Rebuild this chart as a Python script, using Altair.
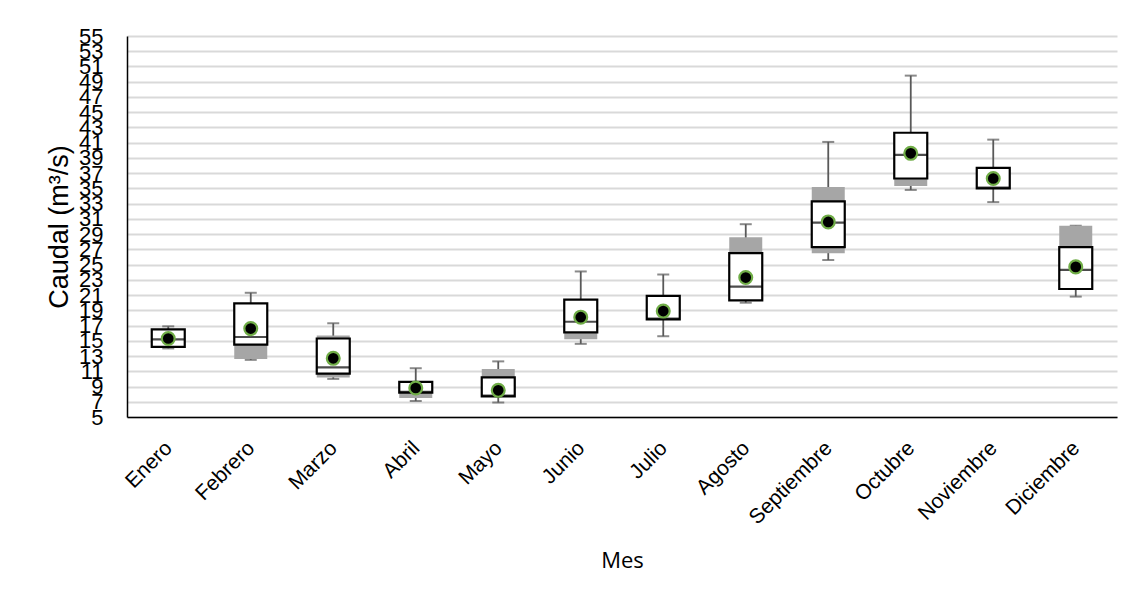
import altair as alt
import pandas as pd

months = ["Enero", "Febrero", "Marzo", "Abril", "Mayo", "Junio", "Julio",
          "Agosto", "Septiembre", "Octubre", "Noviembre", "Diciembre"]
wmin   = [14.0, 12.5, 10.0, 7.1, 6.9, 14.6, 15.6, 20.0, 25.6, 34.8, 33.2, 20.8]
gray_lo = [14.2, 12.6, 10.2, 7.5, 7.7, 15.2, 17.8, 20.3, 26.5, 35.3, 35.0, 21.8]
q1     = [14.2, 14.5, 10.7, 8.2, 7.7, 16.1, 17.8, 20.3, 27.3, 36.3, 35.0, 21.8]
median = [15.2, 15.5, 11.5, 8.3, 7.8, 17.5, 17.9, 22.1, 30.5, 39.4, 35.1, 24.3]
q3     = [16.5, 19.9, 15.3, 9.6, 10.2, 20.4, 20.9, 26.5, 33.3, 42.3, 37.7, 27.3]
gray_hi = [16.5, 19.9, 15.7, 9.6, 11.3, 20.4, 20.9, 28.6, 35.2, 42.3, 37.7, 30.1]
wmax   = [16.9, 21.3, 17.3, 11.4, 12.3, 24.1, 23.7, 30.3, 41.1, 49.8, 41.4, 30.1]
mean   = [15.3, 16.6, 12.7, 8.8, 8.5, 18.1, 18.9, 23.3, 30.6, 39.6, 36.3, 24.7]
y_ticks = list(range(5, 56, 2))

df = pd.DataFrame({"Mes": months, "wmin": wmin, "glo": gray_lo, "q1": q1,
                   "med": median, "q3": q3, "ghi": gray_hi, "wmax": wmax,
                   "mean": mean})

LABEL_FONT = "Liberation Sans"

x_axis = alt.Axis(title="Mes", labelAngle=-45, labelFontSize=21,
                  labelFont=LABEL_FONT, labelColor="black",
                  labelPadding=20, labelOffset=-7, ticks=False,
                  domainColor="black", domainWidth=1.5,
                  titleFont="Open Sans", titleFontSize=22,
                  titleFontWeight="normal", titleColor="black",
                  titleX=495, titleY=133, labelOverlap=False, labelLimit=300)
X = alt.X("Mes:N", sort=months,
          scale=alt.Scale(paddingInner=0, paddingOuter=0), axis=x_axis)

yscale = alt.Scale(domain=[5, 55], nice=False, zero=False)
y_axis = alt.Axis(title="Caudal (m³/s)", values=y_ticks, labelFontSize=22,
                  labelFont=LABEL_FONT, labelColor="black", labelPadding=24,
                  ticks=False, domainColor="black", domainWidth=1.5,
                  gridColor="#d9d9d9", gridWidth=1.8, labelOverlap=False,
                  titleFont=LABEL_FONT, titleFontSize=27,
                  titleFontWeight="normal", titleColor="black",
                  titleX=-54, titleY=190.5, labelFlush=False)


def Y(field):
    return alt.Y(field, scale=yscale, axis=y_axis)


base = alt.Chart(df).encode(x=X)

whisker = base.mark_rule(color="#595959", strokeWidth=1.8).encode(
    y=Y("wmin:Q"), y2="wmax:Q")
caps_lo = base.mark_tick(color="#595959", size=12, thickness=2).encode(
    y=Y("wmin:Q"))
caps_hi = base.mark_tick(color="#595959", size=12, thickness=2).encode(
    y=Y("wmax:Q"))
gray = base.mark_bar(color="#a6a6a6", size=33).encode(
    y=Y("glo:Q"), y2="ghi:Q")
box = base.mark_bar(fill="white", stroke="black", strokeWidth=2.2, size=33).encode(
    y=Y("q1:Q"), y2="q3:Q")
med = base.mark_tick(color="black", size=33, thickness=2.2).encode(
    y=Y("med:Q"))
pts = base.mark_point(filled=True, fill="black", stroke="#70ad47",
                      strokeWidth=2.2, size=165, opacity=1,
                      fillOpacity=1, strokeOpacity=1).encode(
    y=Y("mean:Q"))

chart = alt.layer(whisker, caps_lo, caps_hi, gray, box, med, pts).properties(
    width=990, height=381,
    padding={"left": 119, "top": 28, "right": 8, "bottom": 180},
    autosize=alt.AutoSizeParams(type="none"),
    background="white",
).configure_view(strokeWidth=0)

chart.save("out.html", embed_options={"renderer": "svg", "actions": False})
